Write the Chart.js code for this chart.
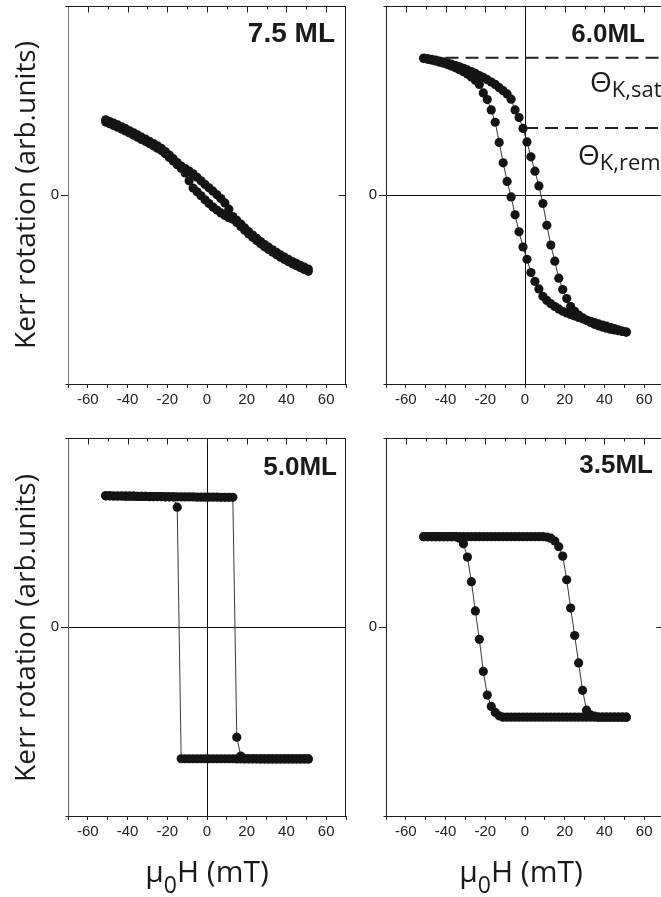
<!DOCTYPE html>
<html lang="en">
<head>
<meta charset="utf-8">
<title>Kerr hysteresis loops</title>
<script src="https://cdn.jsdelivr.net/npm/chart.js@4.4.1/dist/chart.umd.min.js"></script>
<style>
  html, body { margin: 0; padding: 0; background: #fff; }
  #figure { position: relative; width: 661px; height: 897px; overflow: hidden; background: #fff; }
  #figure canvas { position: absolute; }
  .txt { position: absolute; white-space: nowrap; color: #1a1a1a; }
  .ytitle { font-family: 'Open Sans', sans-serif; font-size: 28px; line-height: 28px; width: 400px; height: 28px; text-align: center; transform: rotate(-90deg); }
  .xtitle { font-family: 'Open Sans', sans-serif; font-size: 30px; line-height: 30px; width: 300px; text-align: center; }
  .xtitle sub { font-size: 23px; vertical-align: -11px; line-height: 0; }
  .panel-label { font-family: 'Liberation Sans', Arial, sans-serif; font-weight: bold; font-size: 26px; line-height: 26px; text-align: right; left: 0; }
  .theta { font-family: 'Open Sans', sans-serif; font-size: 28px; line-height: 28px; }
  .theta sub { font-size: 22px; vertical-align: -5px; line-height: 0; }
</style>
</head>
<body>
<div id="figure">
  <canvas id="p75" width="346" height="426" style="left:8px;top:-6px"></canvas>
  <canvas id="p60" width="346" height="426" style="left:326px;top:-6px"></canvas>
  <canvas id="p50" width="346" height="426" style="left:8px;top:426px"></canvas>
  <canvas id="p35" width="346" height="426" style="left:326px;top:426px"></canvas>

  <div class="txt ytitle" style="left:-176px;top:181px">Kerr rotation (arb.units)</div>
  <div class="txt ytitle" style="left:-176px;top:614px">Kerr rotation (arb.units)</div>
  <div class="txt xtitle" style="left:57px;top:856px">&mu;<sub>0</sub>H (mT)</div>
  <div class="txt xtitle" style="left:371px;top:856px">&mu;<sub>0</sub>H (mT)</div>

  <div class="txt panel-label" style="width:335px;top:19px;font-size:28px;line-height:28px">7.5 ML</div>
  <div class="txt panel-label" style="width:645px;top:20px">6.0ML</div>
  <div class="txt panel-label" style="width:337px;top:453px">5.0ML</div>
  <div class="txt panel-label" style="width:653px;top:451px">3.5ML</div>

  <div class="txt theta" style="left:590px;top:67px">&Theta;<sub>K,sat</sub></div>
  <div class="txt theta" style="left:578px;top:140px">&Theta;<sub>K,rem</sub></div>
</div>

<script>
// Applied field (mT) at which each point of a sweep was taken
const fieldSweep = [-51,-49,-47,-45,-43,-41,-39,-37,-35,-33,-31,-29,-27,-25,-23,-21,-19,-17,-15,-13,-11,-9,-7,-5,-3,-1,
                    1,3,5,7,9,11,13,15,17,19,21,23,25,27,29,31,33,35,37,39,41,43,45,47,49,51];
// Axis tick positions
const fieldTicks = [-70,-60,-50,-40,-30,-20,-10,0,10,20,30,40,50,60,70];
const kerrTicks = [0];

// 7.5 ML: field increasing / decreasing
const kerr75Up = [0.398,0.389,0.380,0.371,0.361,0.351,0.340,0.329,0.318,0.306,0.296,0.284,0.272,0.260,0.247,0.230,0.211,0.192,0.172,0.153,0.140,0.127,0.112,0.094,0.075,0.056,
                  0.038,0.020,0.001,-0.019,-0.042,-0.075,-0.114,-0.134,-0.154,-0.174,-0.194,-0.212,-0.229,-0.246,-0.262,-0.276,-0.290,-0.304,-0.317,-0.329,-0.341,-0.352,-0.362,-0.372,-0.382,-0.392];
const kerr75Down = [0.386,0.377,0.368,0.359,0.349,0.339,0.328,0.317,0.306,0.294,0.284,0.272,0.260,0.248,0.235,0.218,0.199,0.180,0.160,0.141,0.117,0.075,0.037,0.017,-0.004,-0.025,
                    -0.045,-0.064,-0.080,-0.095,-0.108,-0.120,-0.128,-0.146,-0.166,-0.186,-0.206,-0.224,-0.241,-0.258,-0.274,-0.288,-0.302,-0.316,-0.329,-0.341,-0.353,-0.364,-0.374,-0.384,-0.394,-0.404];

// 6.0 ML
const kerr60Up = [0.725,0.722,0.718,0.714,0.709,0.704,0.698,0.692,0.685,0.678,0.670,0.662,0.653,0.643,0.632,0.622,0.610,0.598,0.585,0.568,0.552,0.535,0.507,0.450,0.410,0.352,
                  0.281,0.202,0.126,0.048,-0.045,-0.160,-0.265,-0.350,-0.440,-0.500,-0.548,-0.590,-0.615,-0.635,-0.650,-0.663,-0.674,-0.684,-0.692,-0.699,-0.705,-0.710,-0.714,-0.718,-0.722,-0.725];
const kerr60Down = [0.722,0.718,0.714,0.709,0.703,0.697,0.690,0.682,0.673,0.663,0.652,0.640,0.625,0.607,0.585,0.540,0.505,0.450,0.385,0.278,0.170,0.072,-0.010,-0.105,-0.195,-0.275,
                    -0.340,-0.410,-0.457,-0.497,-0.536,-0.558,-0.575,-0.590,-0.603,-0.615,-0.624,-0.632,-0.640,-0.648,-0.655,-0.662,-0.668,-0.675,-0.682,-0.688,-0.694,-0.700,-0.707,-0.714,-0.720,-0.725];
const kerrSat60 = 0.726;
const kerrRem60 = 0.355;
const satLineField = [-40, 70];
const remLineField = [0, 70];

// 5.0 ML
const kerr50Up = [0.694,0.694,0.693,0.693,0.693,0.692,0.692,0.692,0.691,0.691,0.691,0.690,0.690,0.690,0.690,0.689,0.689,0.689,0.689,0.688,0.688,0.688,0.688,0.687,0.687,0.687,
                  0.687,0.687,0.687,0.686,0.686,0.686,0.686,-0.583,-0.683,-0.697,-0.697,-0.697,-0.697,-0.698,-0.698,-0.698,-0.698,-0.698,-0.698,-0.698,-0.698,-0.698,-0.698,-0.698,-0.698,-0.698];
const kerr50Down = [0.694,0.694,0.693,0.693,0.693,0.692,0.692,0.692,0.691,0.691,0.691,0.690,0.690,0.690,0.690,0.689,0.689,0.689,0.634,-0.697,-0.697,-0.697,-0.697,-0.697,-0.697,-0.697,
                    -0.697,-0.697,-0.697,-0.697,-0.697,-0.697,-0.697,-0.698,-0.698,-0.698,-0.698,-0.698,-0.698,-0.698,-0.698,-0.698,-0.698,-0.698,-0.698,-0.698,-0.698,-0.698,-0.698,-0.698,-0.698,-0.698];

// 3.5 ML
const kerr35Up = [0.478,0.478,0.478,0.478,0.478,0.478,0.478,0.478,0.478,0.478,0.478,0.478,0.478,0.478,0.478,0.478,0.478,0.478,0.478,0.478,0.478,0.478,0.478,0.478,0.478,0.478,
                  0.478,0.478,0.478,0.478,0.478,0.476,0.470,0.455,0.425,0.375,0.250,0.100,-0.045,-0.190,-0.335,-0.440,-0.465,-0.472,-0.477,-0.477,-0.477,-0.477,-0.477,-0.477,-0.477,-0.477];
const kerr35Down = [0.478,0.478,0.478,0.478,0.478,0.478,0.478,0.478,0.478,0.470,0.440,0.370,0.240,0.085,-0.065,-0.235,-0.360,-0.420,-0.452,-0.470,-0.477,-0.477,-0.477,-0.477,-0.477,-0.477,
                    -0.477,-0.477,-0.477,-0.477,-0.477,-0.477,-0.477,-0.477,-0.477,-0.477,-0.477,-0.477,-0.477,-0.477,-0.477,-0.477,-0.477,-0.477,-0.477,-0.477,-0.477,-0.477,-0.477,-0.477,-0.477,-0.477];

Chart.defaults.font.family = "'Liberation Sans', Arial, sans-serif";
Chart.defaults.color = '#222';

function points(xs, ys) {
  return xs.map((x, i) => ({ x: x, y: ys[i] }));
}

function sweepDataset(ys) {
  return {
    data: points(fieldSweep, ys),
    showLine: true,
    borderColor: '#222',
    borderWidth: 0.9,
    pointRadius: 4.6,
    pointHoverRadius: 4.6,
    pointBackgroundColor: '#141414',
    pointBorderWidth: 0
  };
}

function levelDataset(fields, level) {
  return {
    data: fields.map(f => ({ x: f, y: level })),
    showLine: true,
    borderColor: '#222',
    borderWidth: 2,
    borderDash: [13, 7],
    pointRadius: 0,
    pointHoverRadius: 0
  };
}

// Top and right frame edges with inward ticks
const framePlugin = {
  id: 'panelFrame',
  afterDraw(chart) {
    const { ctx, chartArea: a } = chart;
    const xs = chart.scales.x, ys = chart.scales.y;
    const top = Math.round(a.top) + 0.5;
    const right = Math.round(a.right) - 0.5;
    const bottom = Math.round(a.bottom) + 0.5;
    const left = Math.round(a.left) + 0.5;
    ctx.save();
    ctx.strokeStyle = '#1e1e1e';
    ctx.lineWidth = 1;
    ctx.beginPath();
    ctx.moveTo(left - 3, top); ctx.lineTo(right + 0.5, top);
    ctx.moveTo(right, top); ctx.lineTo(right, bottom);
    ctx.moveTo(left - 3, bottom); ctx.lineTo(left, bottom);
    xs.ticks.forEach(t => {
      if (t.value <= xs.min || t.value >= xs.max) return;
      const px = Math.round(xs.getPixelForValue(t.value)) + 0.5;
      const len = t.value % 20 === 0 ? 6 : 3;
      ctx.moveTo(px, top); ctx.lineTo(px, top + len);
    });
    ys.ticks.forEach(t => {
      const py = Math.round(ys.getPixelForValue(t.value)) + 0.5;
      ctx.moveTo(right, py); ctx.lineTo(right - 7, py);
    });
    ctx.stroke();
    ctx.restore();
  }
};

function makePanel(id, datasets, crosshair, leftAxisColor) {
  return new Chart(document.getElementById(id), {
    type: 'scatter',
    data: { datasets: datasets },
    plugins: [framePlugin],
    options: {
      responsive: false,
      animation: false,
      devicePixelRatio: 1,
      events: [],
      layout: { padding: { left: 0, top: 12, right: 8, bottom: 0 } },
      plugins: { legend: { display: false }, tooltip: { enabled: false } },
      scales: {
        x: {
          type: 'linear',
          min: -70, max: 70,
          afterBuildTicks: s => { s.ticks = fieldTicks.map(v => ({ value: v })); },
          afterFit: s => { s.height = 36; },
          ticks: {
            autoSkip: false, maxRotation: 0, padding: 3,
            font: { size: 15 }, color: '#222',
            callback: v => (v % 20 === 0 ? String(v) : '')
          },
          grid: {
            drawOnChartArea: crosshair,
            color: c => (c.tick && c.tick.value === 0) ? '#111' : 'rgba(0,0,0,0)',
            tickColor: '#222', tickLength: 4, lineWidth: 1
          },
          border: { display: true, color: '#1e1e1e', width: 1 }
        },
        y: {
          type: 'linear',
          min: -1, max: 1,
          afterBuildTicks: s => { s.ticks = kerrTicks.map(v => ({ value: v })); },
          afterFit: s => { s.width = 60; },
          ticks: { padding: 2, font: { size: 15 }, color: '#222', callback: v => String(v) },
          grid: { drawOnChartArea: crosshair, color: '#111', tickColor: '#222', tickLength: 7, lineWidth: 1 },
          border: { display: true, color: leftAxisColor, width: 1 }
        }
      }
    }
  });
}

makePanel('p75', [sweepDataset(kerr75Up), sweepDataset(kerr75Down)], false, '#777');
makePanel('p60', [sweepDataset(kerr60Up), sweepDataset(kerr60Down),
                  levelDataset(satLineField, kerrSat60), levelDataset(remLineField, kerrRem60)], true, '#1e1e1e');
makePanel('p50', [sweepDataset(kerr50Up), sweepDataset(kerr50Down)], true, '#666');
makePanel('p35', [sweepDataset(kerr35Up), sweepDataset(kerr35Down)], false, '#1e1e1e');
</script>
</body>
</html>
